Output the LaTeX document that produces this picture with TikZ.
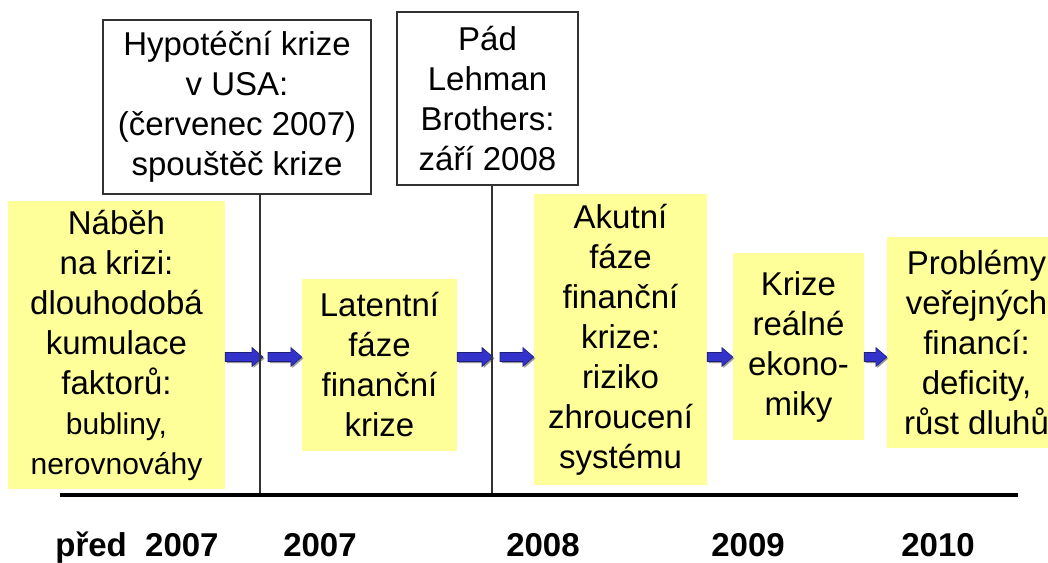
\documentclass[tikz,border=0pt]{standalone}
\usepackage{fontspec}
\setmainfont{Liberation Sans}
\usetikzlibrary{calc}
\definecolor{boxyellow}{RGB}{255,255,153}
\definecolor{arrblue}{RGB}{51,51,204}
\definecolor{arrdark}{RGB}{30,30,120}
\definecolor{linegray}{RGB}{50,50,50}
\tikzset{
 ybox/.style={fill=boxyellow, inner sep=0pt, align=center, font=\fontsize{33}{40}\selectfont},
 wbox/.style={draw=linegray, line width=1.2pt, fill=white, inner sep=0pt, align=center, font=\fontsize{33}{40}\selectfont},
 yearlabel/.style={anchor=base, font=\fontsize{33}{40}\selectfont\bfseries},
 vline/.style={draw=linegray, line width=1.5pt},
}
\newcommand\arrpoly[4]{%
 \path[#4] let \p1=(#1), \p2=(#2) in
  ({\x1+#3},{\y1+4.5pt-#3}) -- ({\x2-11pt+#3},{\y1+4.5pt-#3}) -- ({\x2-11pt+#3},{\y1+9.5pt-#3}) -- ({\x2+#3},{\y1-#3}) -- ({\x2-11pt+#3},{\y1-9.5pt-#3}) -- ({\x2-11pt+#3},{\y1-4.5pt-#3}) -- ({\x1+#3},{\y1-4.5pt-#3}) -- cycle;}
\newcommand\blockarr[2]{\arrpoly{#1}{#2}{1.5pt}{fill=black!40}\arrpoly{#1}{#2}{0pt}{fill=arrblue, draw=arrdark, line width=0.6pt}}
\begin{document}
\begin{tikzpicture}[x=1pt,y=-1pt]
\useasboundingbox (0,0) rectangle (1048,562);
\fill[white] (0,0) rectangle (1048,562);
% coordinates
\coordinate (tl) at (60,495);
\coordinate (tr) at (1018,495);
\coordinate (ay) at (0,357);
\coordinate (v1) at (260,495);
\coordinate (v2) at (492,495);
% boxes
\node[ybox, minimum width=217pt, minimum height=288pt] (b1) at (116.5,345) {Náběh\\na krizi:\\dlouhodobá\\kumulace\\faktorů:\\{\fontsize{30}{39}\selectfont bubliny,}\\{\fontsize{30}{39}\selectfont nerovnováhy}};
\node[ybox, minimum width=155pt, minimum height=172pt] (b2) at (379.5,365) {Latentní\\fáze\\finanční\\krize};
\node[ybox, minimum width=173pt, minimum height=291pt] (b3) at (620.5,339.5) {Akutní\\fáze\\finanční\\krize:\\riziko\\zhroucení\\systému};
\node[ybox, minimum width=131pt, minimum height=187pt] (b4) at (798.5,346.5) {Krize\\reálné\\ekono-\\miky};
\node[ybox, minimum width=179pt, minimum height=211pt] (b5) at (976.5,342.5) {Problémy\\veřejných\\financí:\\deficity,\\růst dluhů};
\node[wbox, minimum width=268pt, minimum height=174pt] (hypo) at (237,107) {Hypotéční krize\\v USA:\\(červenec 2007)\\spouštěč krize};
\node[wbox, minimum width=181pt, minimum height=173pt] (pad) at (487.5,98.5) {Pád\\Lehman\\Brothers:\\září 2008};
% arrows
\blockarr{b1.east |- ay}{$(v1 |- ay)+(3,0)$}
\blockarr{$(v1 |- ay)+(8,0)$}{b2.west |- ay}
\blockarr{b2.east |- ay}{$(v2 |- ay)+(1,0)$}
\blockarr{$(v2 |- ay)+(8,0)$}{b3.west |- ay}
\blockarr{b3.east |- ay}{b4.west |- ay}
\blockarr{b4.east |- ay}{b5.west |- ay}
% lines
\draw[vline] (hypo.south -| v1) -- (v1);
\draw[vline] (pad.south -| v2) -- (v2);
\draw[line width=4pt] (tl) -- (tr);
% years
\node[yearlabel] (y0) at (137,556) {před~~2007};
\node[yearlabel] (y1) at (320,556) {2007};
\node[yearlabel] (y2) at (543,556) {2008};
\node[yearlabel] (y3) at (748,556) {2009};
\node[yearlabel] (y4) at (938,556) {2010};
\end{tikzpicture}
\end{document}
